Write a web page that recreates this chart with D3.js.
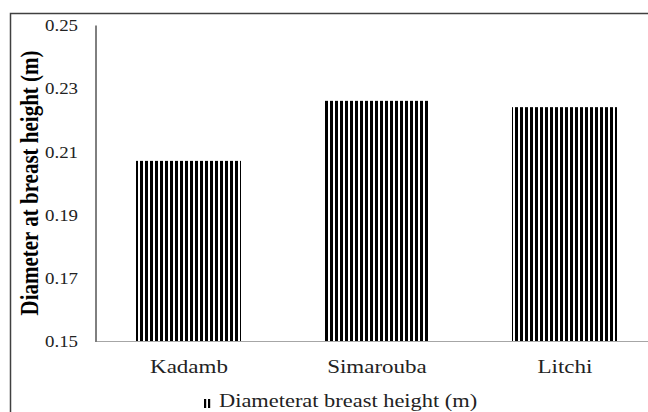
<!DOCTYPE html>
<html><head><meta charset="utf-8">
<script src="https://cdn.jsdelivr.net/npm/d3@7"></script>
<style>body{margin:0;background:#fff}svg{display:block}
svg text{font-family:"Liberation Serif","Times New Roman",Times,serif !important;}
</style>
</head><body>
<svg id="c" width="648" height="412"></svg>
<script>
const categories = ["Kadamb", "Simarouba", "Litchi"];
const values = [0.207, 0.226, 0.224];
const yTicks = [0.15, 0.17, 0.19, 0.21, 0.23, 0.25];
const seriesName = "Diameterat breast height (m)";
const yTitle = "Diameter at breast height (m)";

(function(){
const svg = d3.select("#c");
const sx = 1.18;

const defs = svg.append("defs");
const pat = defs.append("pattern").attr("id","stripes").attr("patternUnits","userSpaceOnUse")
  .attr("width",5).attr("height",10);
pat.append("rect").attr("width",5).attr("height",10).attr("fill","#fff");
pat.append("rect").attr("x",0).attr("width",3).attr("height",10).attr("fill","#000");

svg.append("path").attr("d","M10.5,412 L10.5,13.5 L648,13.5").attr("fill","none").attr("stroke","#404040").attr("stroke-width",1.5);

const pLeft = 95, pTop = 25, pBottom = 341;
const x = d3.scaleBand().domain(categories).range([pLeft, pLeft + 564]).paddingInner(0.44).paddingOuter(0.22);
const y = d3.scaleLinear().domain([0.15, 0.25]).range([pBottom, pTop]);

svg.append("g").selectAll("rect").data(values).join("rect")
  .attr("x",(d,i)=>Math.round(x(categories[i])))
  .attr("y",d=>y(d))
  .attr("width",Math.round(x.bandwidth()))
  .attr("height",d=>pBottom-y(d))
  .attr("fill","url(#stripes)");

svg.append("line").attr("x1",pLeft).attr("x2",648).attr("y1",pBottom+0.5).attr("y2",pBottom+0.5).attr("stroke","#a6a6a6").attr("stroke-width",1.2);
const ya = svg.append("g").attr("transform",`translate(${pLeft+0.5},0)`)
  .call(d3.axisLeft(y).tickValues(yTicks).tickFormat(d3.format(".2f")).tickSize(0).tickPadding(18));
ya.select(".domain").attr("stroke","#000").attr("stroke-width",1);
ya.selectAll(".tick text").style("font-size","16px").attr("fill","#222")
  .attr("x",-17.5/sx).attr("dy","0.35em").attr("transform",`scale(${sx},1)`);

const xa = svg.append("g").attr("transform",`translate(0,${pBottom})`)
  .call(d3.axisBottom(x).tickSize(0).tickPadding(17));
xa.select(".domain").remove();
xa.selectAll(".tick text").style("font-size","19.5px").attr("fill","#222")
  .attr("y",32).attr("dy",0).attr("transform",`scale(${sx},1)`);

svg.append("text").attr("transform",`translate(38,183) scale(${sx},1) rotate(-90)`).attr("text-anchor","middle")
  .style("font-weight","bold").style("font-size","21px").attr("fill","#000").text(yTitle);

const lg = svg.append("g");
lg.append("rect").attr("x",204).attr("y",399).attr("width",2.2).attr("height",9).attr("fill","#000");
lg.append("rect").attr("x",208).attr("y",399).attr("width",2.2).attr("height",9).attr("fill","#000");
lg.append("text").attr("transform",`translate(219,407) scale(${sx},1)`).style("font-size","19px").attr("fill","#222").text(seriesName);
})();
</script>
</body></html>
